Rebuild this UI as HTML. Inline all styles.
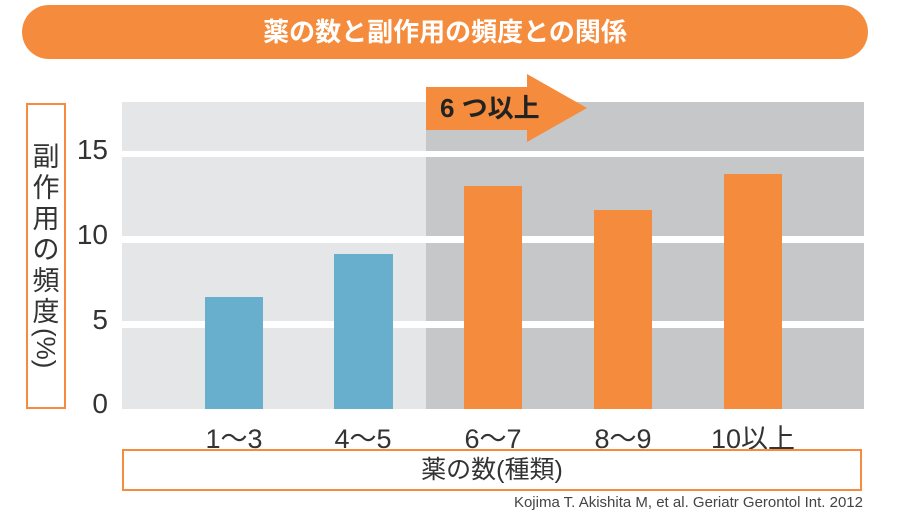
<!DOCTYPE html>
<html><head><meta charset="utf-8"><style>
body{margin:0;width:917px;height:518px;background:#fff;position:relative;overflow:hidden;font-family:"Liberation Sans","Noto Sans CJK JP",sans-serif}
.a{position:absolute}
</style></head><body>
<div class="a" style="left:22px;top:5px;width:846px;height:54px;background:#f58c3d;border-radius:27px;color:#fff;font-weight:bold;font-size:26px;line-height:54px;text-align:center">薬の数と副作用の頻度との関係</div>
<div class="a" style="left:122px;top:102px;width:304px;height:307px;background:#e5e6e8"></div>
<div class="a" style="left:426px;top:102px;width:438px;height:307px;background:#c6c7c9"></div>
<div class="a" style="left:122px;top:151px;width:742px;height:6px;background:#fff"></div>
<div class="a" style="left:122px;top:236px;width:742px;height:7px;background:#fff"></div>
<div class="a" style="left:122px;top:321px;width:742px;height:7px;background:#fff"></div>
<div class="a" style="left:205px;top:297px;width:58px;height:112px;background:#68aecd"></div>
<div class="a" style="left:334px;top:254px;width:59px;height:155px;background:#68aecd"></div>
<div class="a" style="left:464px;top:186px;width:58px;height:223px;background:#f58c3d"></div>
<div class="a" style="left:594px;top:210px;width:58px;height:199px;background:#f58c3d"></div>
<div class="a" style="left:724px;top:174px;width:58px;height:235px;background:#f58c3d"></div>
<svg class="a" style="left:426px;top:74px" width="162" height="70"><polygon points="0,13 101,13 101,0 161,34 101,68 101,56 0,56" fill="#f58c3d"/></svg>
<div class="a" style="left:440px;top:87px;height:43px;line-height:43px;font-size:26px;color:#222;font-weight:bold">6 つ以上</div>
<div class="a" style="left:26px;top:103px;width:36px;height:302px;border:2px solid #f58c3d"></div>
<div class="a" style="left:30px;top:142px;width:32px;font-size:27px;line-height:31px;color:#333;text-align:center">副<br>作<br>用<br>の<br>頻<br>度</div>
<div class="a" style="left:30px;top:328px;width:32px;height:40px;writing-mode:vertical-rl;font-size:26px;line-height:32px;color:#333">(%)</div>
<div class="a" style="left:56px;top:134px;width:52px;text-align:right;font-size:28px;color:#333">15</div>
<div class="a" style="left:56px;top:219px;width:52px;text-align:right;font-size:28px;color:#333">10</div>
<div class="a" style="left:56px;top:304px;width:52px;text-align:right;font-size:28px;color:#333">5</div>
<div class="a" style="left:56px;top:388px;width:52px;text-align:right;font-size:28px;color:#333">0</div>
<div class="a" style="left:174px;top:417px;width:120px;text-align:center;font-size:27px;color:#333">1～3</div>
<div class="a" style="left:303px;top:417px;width:120px;text-align:center;font-size:27px;color:#333">4～5</div>
<div class="a" style="left:433px;top:417px;width:120px;text-align:center;font-size:27px;color:#333">6～7</div>
<div class="a" style="left:563px;top:417px;width:120px;text-align:center;font-size:27px;color:#333">8～9</div>
<div class="a" style="left:683px;top:417px;width:140px;text-align:center;font-size:27px;color:#333">10以上</div>
<div class="a" style="left:122px;top:449px;width:736px;height:38px;border:2px solid #f58c3d;text-align:center;line-height:38px;font-size:25px;color:#333">薬の数(種類)</div>
<div class="a" style="right:54px;top:494px;font-size:15px;color:#444">Kojima T. Akishita M, et al. Geriatr Gerontol Int. 2012</div>
</body></html>
